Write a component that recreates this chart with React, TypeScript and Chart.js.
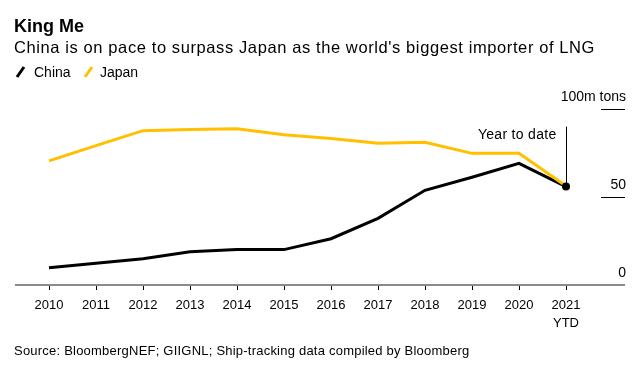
import React, { useEffect, useRef } from "react";
import { Chart, registerables } from "chart.js";

Chart.register(...registerables);

const years = ["2010", "2011", "2012", "2013", "2014", "2015", "2016", "2017", "2018", "2019", "2020", ["2021", "YTD"]];
const china = [9.8, 12.3, 14.9, 18.9, 20.1, 20.1, 26.3, 37.9, 53.8, 61.2, 69.1, 55.9];
const japan = [70.5, 79.2, 87.7, 88.3, 88.8, 85.4, 83.3, 80.5, 81.1, 74.8, 74.8, 56.2];
const yTicks = [0, 50, 100];
const yTickLabels = ["0", "50", "100m tons"];
const annotationText = "Year to date";
const annotationTop = 90;

const FONT = "'Liberation Sans', Arial, Helvetica, sans-serif";
const YELLOW = "#FFC000";

const textPlugin = {
  id: "texts",
  afterDraw(chart: any) {
    const { ctx } = chart;
    const x = chart.scales.x;
    const y = chart.scales.y;
    ctx.save();
    ctx.fillStyle = "#000";
    ctx.textAlign = "left";
    ctx.textBaseline = "alphabetic";
    ctx.font = `bold 18px ${FONT}`;
    ctx.fillText("King Me", 14, 32);
    ctx.font = `16.5px ${FONT}`;
    ctx.letterSpacing = "0.6px";
    ctx.fillText("China is on pace to surpass Japan as the world's biggest importer of LNG", 14, 53);
    ctx.letterSpacing = "0px";
    // legend
    ctx.lineWidth = 3;
    ctx.strokeStyle = "#000";
    ctx.beginPath();
    ctx.moveTo(17, 77);
    ctx.lineTo(24, 67);
    ctx.stroke();
    ctx.strokeStyle = YELLOW;
    ctx.beginPath();
    ctx.moveTo(85, 77);
    ctx.lineTo(92, 67);
    ctx.stroke();
    ctx.font = `14px ${FONT}`;
    ctx.fillStyle = "#000";
    ctx.fillText("China", 34, 77);
    ctx.fillText("Japan", 100, 77);
    // source
    ctx.font = `13px ${FONT}`;
    ctx.letterSpacing = "0.22px";
    ctx.fillText("Source: BloombergNEF; GIIGNL; Ship-tracking data compiled by Bloomberg", 14, 355);
    ctx.letterSpacing = "0px";
    // axis line
    ctx.strokeStyle = "#8a8a8a";
    ctx.lineWidth = 2;
    ctx.beginPath();
    ctx.moveTo(15, y.getPixelForValue(0));
    ctx.lineTo(625, y.getPixelForValue(0));
    ctx.stroke();
    // y ticks
    ctx.font = `14px ${FONT}`;
    ctx.textAlign = "right";
    ctx.fillStyle = "#000";
    ctx.strokeStyle = "#000";
    ctx.lineWidth = 1;
    yTicks.forEach((v, i) => {
      const py = y.getPixelForValue(v);
      ctx.fillText(yTickLabels[i], 626, py - 8);
      if (v !== 0) {
        ctx.beginPath();
        ctx.moveTo(601, Math.round(py) + 0.5);
        ctx.lineTo(625, Math.round(py) + 0.5);
        ctx.stroke();
      }
    });
    // annotation
    const last = china.length - 1;
    const ax = Math.round(x.getPixelForValue(last)) + 0.5;
    const ayTop = y.getPixelForValue(annotationTop);
    const ayBot = y.getPixelForValue(china[last]);
    ctx.beginPath();
    ctx.moveTo(ax, ayTop);
    ctx.lineTo(ax, ayBot);
    ctx.stroke();
    ctx.letterSpacing = "0.3px";
    ctx.fillText(annotationText, ax - 10, ayTop + 12);
    ctx.letterSpacing = "0px";
    // dot
    ctx.beginPath();
    ctx.arc(x.getPixelForValue(last), ayBot, 4, 0, Math.PI * 2);
    ctx.fill();
    ctx.restore();
  },
};

export default function App() {
  const ref = useRef<HTMLCanvasElement>(null);
  useEffect(() => {
    const chart = new Chart(ref.current as HTMLCanvasElement, {
      type: "line",
      data: {
        labels: years as any,
        datasets: [
          {
            label: "Japan",
            data: japan,
            borderColor: YELLOW,
            borderWidth: 3,
            pointRadius: 0,
            tension: 0,
            order: 1,
            clip: false as any,
          },
          {
            label: "China",
            data: china,
            borderColor: "#000",
            borderWidth: 3,
            pointRadius: 0,
            tension: 0,
            order: 2,
            clip: false as any,
          },
        ],
      },
      options: {
        animation: false,
        responsive: false,
        layout: { padding: { left: 49, right: 78, top: 109, bottom: 25 } },
        plugins: { legend: { display: false }, tooltip: { enabled: false }, title: { display: false } },
        scales: {
          x: {
            type: "category",
            offset: false,
            border: { display: false },
            grid: { drawOnChartArea: false, drawTicks: true, tickLength: 5, tickColor: "#000", tickWidth: 1 },
            ticks: { color: "#000", padding: 6, autoSkip: false, maxRotation: 0, font: { family: FONT, size: 13, lineHeight: 18 / 13 } },
            afterFit: (s: any) => {
              s.height = 60;
            },
          },
          y: { display: false, min: 0, max: 100 },
        },
      },
      plugins: [textPlugin],
    });
    return () => chart.destroy();
  }, []);
  return (
    <div style={{ position: "absolute", left: 0, top: 0, width: 644, height: 370, background: "#fff" }}>
      <canvas ref={ref} width={644} height={370} />
    </div>
  );
}
